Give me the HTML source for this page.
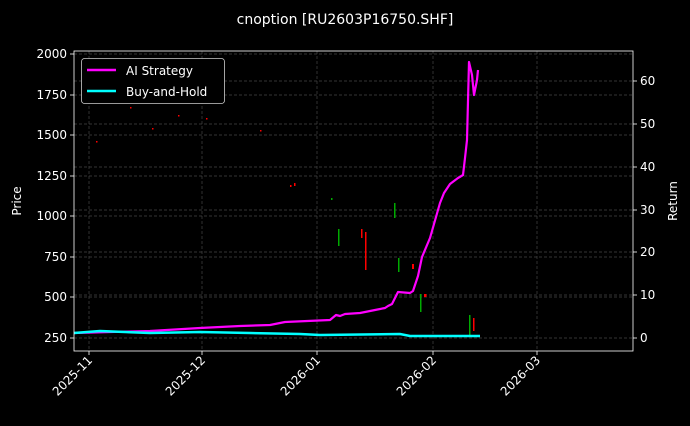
<!DOCTYPE html>
<html><head><style>
body{margin:0;background:#000;}
svg text{font-family:"DejaVu Sans","Liberation Sans",sans-serif;fill:#fff;font-size:12px}
</style></head><body>
<svg width="690" height="421" xmlns="http://www.w3.org/2000/svg">
<rect width="690" height="421" fill="#000"/>
<text x="345" y="24" text-anchor="middle" font-size="14" style="font-size:14px">cnoption [RU2603P16750.SHF]</text>
<g stroke="#444" stroke-width="0.7" stroke-dasharray="3,2">
<line x1="89" y1="51" x2="89" y2="351"/><line x1="202" y1="51" x2="202" y2="351"/><line x1="317" y1="51" x2="317" y2="351"/><line x1="433" y1="51" x2="433" y2="351"/><line x1="537" y1="51" x2="537" y2="351"/>
<line x1="74" y1="338" x2="633" y2="338"/><line x1="74" y1="297" x2="633" y2="297"/><line x1="74" y1="257" x2="633" y2="257"/><line x1="74" y1="216" x2="633" y2="216"/><line x1="74" y1="176" x2="633" y2="176"/><line x1="74" y1="135" x2="633" y2="135"/><line x1="74" y1="95" x2="633" y2="95"/><line x1="74" y1="54" x2="633" y2="54"/>
<line x1="74" y1="295" x2="633" y2="295"/><line x1="74" y1="252" x2="633" y2="252"/><line x1="74" y1="210" x2="633" y2="210"/><line x1="74" y1="167" x2="633" y2="167"/><line x1="74" y1="124" x2="633" y2="124"/><line x1="74" y1="81" x2="633" y2="81"/>
</g>
<g fill="#f00">
<rect x="96" y="141" width="1.5" height="1.5"/><rect x="130" y="107" width="1.5" height="1.5"/><rect x="152" y="128" width="1.5" height="1.5"/><rect x="178" y="115" width="1.5" height="1.5"/><rect x="206" y="118" width="1.5" height="1.5"/><rect x="260" y="130" width="1.5" height="1.5"/><rect x="290" y="185" width="1.5" height="2"/><rect x="294" y="183" width="1.5" height="3"/>
<rect x="361" y="229" width="1.5" height="9"/><rect x="365" y="232" width="1.5" height="38"/><rect x="412" y="264" width="2" height="5"/><rect x="424" y="294" width="2.5" height="3"/><rect x="473" y="318" width="1.5" height="13"/>
</g>
<g fill="#0a0">
<rect x="331" y="198" width="1.5" height="2"/><rect x="338" y="229" width="1.5" height="17"/><rect x="394" y="203" width="1.5" height="15"/><rect x="398" y="258" width="1.5" height="14"/><rect x="420" y="294" width="1.5" height="18"/><rect x="469" y="315" width="1.5" height="20"/>
</g>
<polyline fill="none" stroke="#ff00ff" stroke-width="2.2" stroke-linejoin="round" points="74,333 150,331 200,328 240,326 270,325 285,322 330,320 336,315 340,316 345,314 360,313 375,310 385,308 388,306 392,304 398,292 410,293 413,291 418,276 422,257 430,238 440,203 444,193 450,184 458,178 463,175 465,158 467,140 469,62 472,75 474,95 477,80 478,70"/>
<polyline fill="none" stroke="#00ffff" stroke-width="2.5" points="74,333 100,331 150,333 200,332 250,333 300,334 320,335 400,334 410,336 430,336 480,336"/>
<rect x="74" y="51" width="559" height="300" fill="none" stroke="#fff" stroke-width="0.8"/>
<g stroke="#fff" stroke-width="0.8">
<line x1="70" y1="338" x2="74" y2="338"/><line x1="70" y1="297" x2="74" y2="297"/><line x1="70" y1="257" x2="74" y2="257"/><line x1="70" y1="216" x2="74" y2="216"/><line x1="70" y1="176" x2="74" y2="176"/><line x1="70" y1="135" x2="74" y2="135"/><line x1="70" y1="95" x2="74" y2="95"/><line x1="70" y1="54" x2="74" y2="54"/>
<line x1="633" y1="338" x2="637" y2="338"/><line x1="633" y1="295" x2="637" y2="295"/><line x1="633" y1="252" x2="637" y2="252"/><line x1="633" y1="210" x2="637" y2="210"/><line x1="633" y1="167" x2="637" y2="167"/><line x1="633" y1="124" x2="637" y2="124"/><line x1="633" y1="81" x2="637" y2="81"/>
<line x1="89" y1="351" x2="89" y2="355"/><line x1="202" y1="351" x2="202" y2="355"/><line x1="317" y1="351" x2="317" y2="355"/><line x1="433" y1="351" x2="433" y2="355"/><line x1="537" y1="351" x2="537" y2="355"/>
</g>
<g text-anchor="end">
<text x="67" y="342">250</text><text x="67" y="301">500</text><text x="67" y="261">750</text><text x="67" y="220">1000</text><text x="67" y="180">1250</text><text x="67" y="139">1500</text><text x="67" y="99">1750</text><text x="67" y="58">2000</text>
</g>
<g>
<text x="640" y="342">0</text><text x="640" y="299">10</text><text x="640" y="256">20</text><text x="640" y="214">30</text><text x="640" y="171">40</text><text x="640" y="128">50</text><text x="640" y="85">60</text>
</g>
<text transform="translate(21,201) rotate(-90)" text-anchor="middle">Price</text>
<text transform="translate(677,201) rotate(-90)" text-anchor="middle">Return</text>
<g text-anchor="end">
<text transform="translate(93,361) rotate(-45)">2025-11</text>
<text transform="translate(206,361) rotate(-45)">2025-12</text>
<text transform="translate(321,361) rotate(-45)">2026-01</text>
<text transform="translate(437,361) rotate(-45)">2026-02</text>
<text transform="translate(541,361) rotate(-45)">2026-03</text>
</g>
<rect x="81.5" y="58.5" width="143" height="45" rx="3" fill="#000" stroke="#ccc" stroke-width="0.8"/>
<line x1="87" y1="70" x2="116" y2="70" stroke="#ff00ff" stroke-width="2.5"/>
<line x1="87" y1="91" x2="116" y2="91" stroke="#00ffff" stroke-width="2.5"/>
<text x="126" y="75">AI Strategy</text>
<text x="126" y="96">Buy-and-Hold</text>
</svg>
</body></html>
